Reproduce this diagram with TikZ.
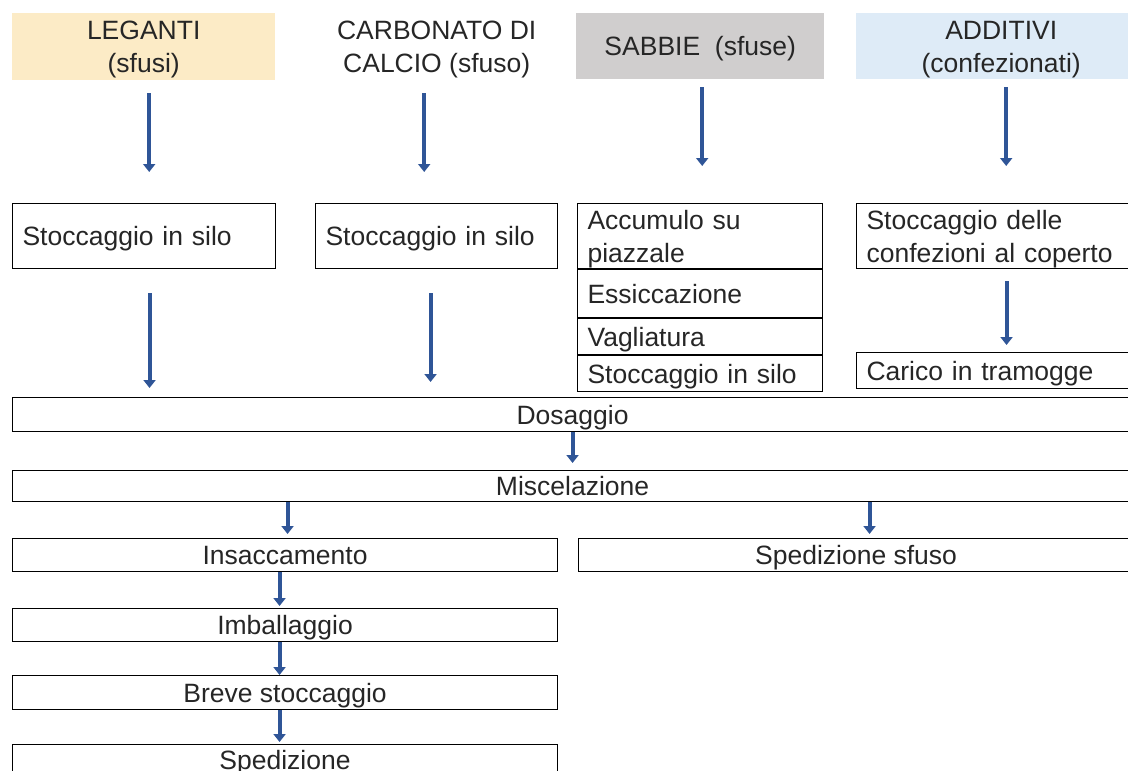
\documentclass[tikz,border=0pt]{standalone}
\usepackage{fontspec}
\setmainfont{Liberation Sans}
\usetikzlibrary{calc,arrows.meta,positioning}
\tikzset{>=Stealth}
\definecolor{legcol}{HTML}{FCEBC6}
\definecolor{sabcol}{HTML}{D0CECE}
\definecolor{addcol}{HTML}{DEEBF7}
\definecolor{flowcol}{HTML}{2F5597}
\tikzset{
  hdr/.style={inner sep=0pt,minimum height=67pt,anchor=north west,
    align=center,text height=55pt,text depth=3pt},
  cell/.style={draw,line width=1.1pt,inner xsep=10pt,inner ysep=0pt,
    anchor=north west,text height=22pt,text depth=3pt},
  lcell/.style={cell,align=left,text width=#1},
  ccell/.style={cell,minimum width=#1},
  twoline/.style={text depth=36pt},
  flow/.style={-{Triangle[width=12pt,length=8pt]},line width=4pt,draw=flowcol}
}
\begin{document}
\begin{tikzpicture}[x=1pt,y=-1pt,font=\fontsize{26.5}{33}\selectfont,
  text=black!85]
\useasboundingbox (0,0) rectangle (1128,771);
% materie prime
\node (leganti) [hdr,fill=legcol,minimum width=263pt] at (12,13)
  {LEGANTI\\(sfusi)};
\node (carbonato) [hdr,minimum width=245pt] at (314,13)
  {CARBONATO DI\\CALCIO (sfuso)};
\node (sabbie) [hdr,fill=sabcol,minimum width=248pt,minimum height=66pt,
  text height=22pt] at (576,13) {SABBIE\ \ (sfuse)};
\node (additivi) [hdr,fill=addcol,minimum width=290pt,minimum height=66pt]
  at (856,13) {ADDITIVI\\(confezionati)};
% stoccaggi
\node (silo1) [lcell=243pt,minimum height=65pt] at (12,203)
  {Stoccaggio in silo};
\node (silo2) [lcell=222pt,minimum height=65pt] at (315,203)
  {Stoccaggio in silo};
\node (accumulo) [lcell=225pt,minimum height=65pt,twoline]
  at (577,203) {Accumulo su\\piazzale};
\node (essic) [lcell=225pt,minimum height=48pt] at (accumulo.south west)
  {Essiccazione};
\node (vaglia) [lcell=225pt,minimum height=36pt] at (essic.south west)
  {Vagliatura};
\node (silo3) [lcell=225pt,minimum height=36pt] at (vaglia.south west)
  {Stoccaggio in silo};
\node (confez) [lcell=262pt,minimum height=65pt,twoline]
  at (856,203) {Stoccaggio delle\\confezioni al coperto};
\node (carico) [lcell=262pt,minimum height=36pt] at (856,352)
  {Carico in tramogge};
% produzione
\node (dosaggio) [ccell=1120pt,minimum height=34pt] at (12,397) {Dosaggio};
\node (miscel) [ccell=1120pt,minimum height=31pt] at (12,470) {Miscelazione};
\node (insacc) [ccell=545pt,minimum height=33pt] at (12,538) {Insaccamento};
\node (sfuso) [ccell=555pt,minimum height=33pt] at (578,538)
  {Spedizione sfuso};
\node (imball) [ccell=545pt,minimum height=33pt] at (12,608) {Imballaggio};
\node (breve) [ccell=545pt,minimum height=34pt] at (12,675)
  {Breve stoccaggio};
\node (sped) [ccell=545pt,minimum height=30pt] at (12,744) {Spedizione};
% frecce
\draw[flow] ($(leganti.south)+(5.5,13)$) --
  ($(leganti.south |- silo1.north)+(5.5,-31)$);
\draw[flow] ($(carbonato.south)+(-12.5,13)$) --
  ($(carbonato.south |- silo2.north)+(-12.5,-31)$);
\draw[flow] ($(sabbie.south)+(2,8)$) --
  ($(sabbie.south |- accumulo.north)+(2,-37)$);
\draw[flow] ($(additivi.south)+(5,8)$) --
  ($(additivi.south |- confez.north)+(5,-37)$);
\draw[flow] ($(silo1.south)+(5.5,24)$) --
  ($(silo1.south |- dosaggio.north)+(5.5,-9)$);
\draw[flow] ($(silo2.south)+(-6,24)$) --
  ($(silo2.south |- dosaggio.north)+(-6,-15)$);
\draw[flow] ($(confez.south)+(9,12)$) --
  ($(confez.south |- carico.north)+(9,-7)$);
\draw[flow] (dosaggio.south) -- ($(miscel.north)+(0,-7)$);
\draw[flow] ($(miscel.south -| insacc.north)+(2.5,0)$) --
  ($(insacc.north)+(2.5,-4)$);
\draw[flow] ($(miscel.south -| sfuso.north)+(13.5,0)$) --
  ($(sfuso.north)+(13.5,-4)$);
\draw[flow] ($(insacc.south)+(-5.5,0)$) -- ($(imball.north)+(-5.5,-2)$);
\draw[flow] ($(imball.south)+(-5.5,0)$) -- ($(breve.north)+(-5.5,0)$);
\draw[flow] ($(breve.south)+(-5.5,0)$) -- ($(sped.north)+(-5.5,-2)$);
\end{tikzpicture}
\end{document}
